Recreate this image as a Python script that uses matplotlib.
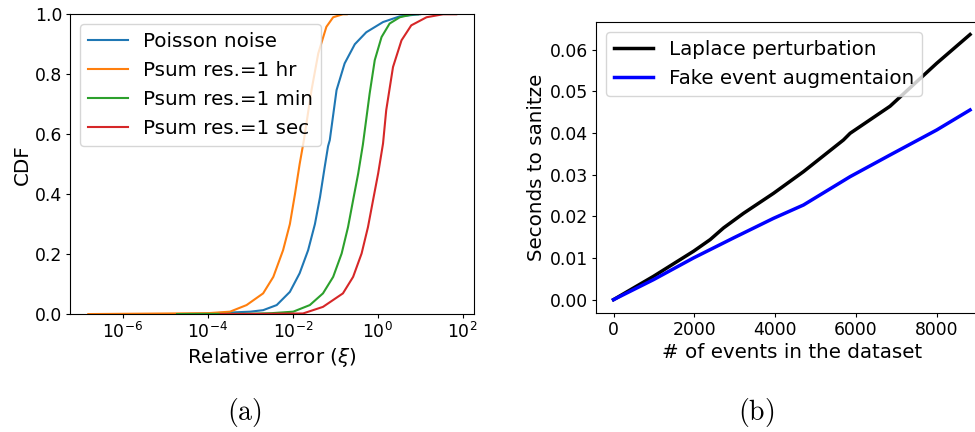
import numpy as np
import matplotlib
matplotlib.use('Agg')
import matplotlib.pyplot as plt
from matplotlib.ticker import NullLocator

plt.rcParams['font.size'] = 14.3
plt.rcParams['xtick.labelsize'] = 12.4
plt.rcParams['ytick.labelsize'] = 12.4
plt.rcParams['xtick.major.size'] = 3
plt.rcParams['ytick.major.size'] = 3
plt.rcParams['xtick.major.pad'] = 2.5
plt.rcParams['ytick.major.pad'] = 2.5

# (a) CDF of relative error, x given as log10(xi)
poisson_logx = [-4.7, -4.0, -3.0, -2.70, -2.38, -2.07, -1.84, -1.64, -1.48, -1.36, -1.25, -1.17,
                -1.13, -0.97, -0.78, -0.54, -0.27, 0.125, 0.52, 0.91, 1.0]
poisson_cdf = [0.0, 0.002, 0.008, 0.013, 0.03, 0.074, 0.136, 0.213, 0.30, 0.39, 0.49, 0.56,
               0.58, 0.747, 0.836, 0.90, 0.94, 0.974, 0.993, 0.999, 1.0]

hr_logx = [-6.82, -4.0, -3.48, -3.09, -2.70, -2.46, -2.23, -2.07, -1.95, -1.84, -1.74,
           -1.56, -1.40, -1.21, -1.05, -0.82, -0.73]
hr_cdf = [0.0, 0.003, 0.008, 0.03, 0.069, 0.124, 0.213, 0.30, 0.40, 0.50, 0.58,
          0.747, 0.87, 0.958, 0.99, 1.0, 1.0]

min_logx = [-4.73, -3.0, -2.5, -1.99, -1.60, -1.29, -1.05, -0.85, -0.70, -0.58, -0.46, -0.35,
            -0.19, -0.07, 0.09, 0.28, 0.52, 0.83, 0.95]
min_cdf = [0.0, 0.001, 0.003, 0.008, 0.03, 0.069, 0.124, 0.202, 0.29, 0.38, 0.469, 0.565,
           0.736, 0.847, 0.924, 0.969, 0.99, 1.0, 1.0]

sec_logx = [-3.7, -2.5, -1.76, -1.29, -0.82, -0.58, -0.38, -0.23, -0.11, 0.01, 0.125,
            0.20, 0.36, 0.56, 0.79, 1.15, 1.54, 1.85]
sec_cdf = [0.0, 0.001, 0.002, 0.024, 0.069, 0.124, 0.202, 0.29, 0.38, 0.469, 0.569,
           0.68, 0.824, 0.913, 0.963, 0.99, 1.0, 1.0]

# (b) sanitization time
events = [0, 990, 1979, 2392, 2722, 3216, 3959, 4701, 5691, 5856, 6845, 8000, 8825]
laplace_sec = [0.0, 0.0056, 0.0116, 0.0144, 0.0172, 0.0207, 0.0255, 0.0307, 0.0383, 0.0399,
               0.0464, 0.0567, 0.0636]
events_fake = [0, 990, 1979, 2969, 3959, 4701, 5856, 6845, 8000, 8825]
fake_sec = [0.0, 0.0048, 0.0100, 0.0148, 0.0195, 0.0227, 0.0295, 0.0347, 0.0407, 0.0455]

fig = plt.figure(figsize=(9.75, 4.32), dpi=100)

ax1 = fig.add_axes([0.0718, 0.273, 0.414, 0.694])
ax1.plot(10 ** np.array(poisson_logx), poisson_cdf, color='#1f77b4', lw=1.5, label='Poisson noise')
ax1.plot(10 ** np.array(hr_logx), hr_cdf, color='#ff7f0e', lw=1.5, label='Psum res.=1 hr')
ax1.plot(10 ** np.array(min_logx), min_cdf, color='#2ca02c', lw=1.5, label='Psum res.=1 min')
ax1.plot(10 ** np.array(sec_logx), sec_cdf, color='#d62728', lw=1.5, label='Psum res.=1 sec')
ax1.set_xscale('log')
ax1.set_xlim(10 ** -7.25, 10 ** 2.26)
ax1.set_ylim(0, 1)
ax1.set_xticks([1e-6, 1e-4, 1e-2, 1, 1e2])
ax1.xaxis.set_minor_locator(NullLocator())
ax1.set_yticks([0, 0.2, 0.4, 0.6, 0.8, 1.0])
ax1.set_xlabel(r'Relative error ($\xi$)', labelpad=3)
ax1.set_ylabel('CDF', labelpad=2.5)
ax1.legend(loc='upper left')

ax2 = fig.add_axes([0.611, 0.2755, 0.402, 0.6736])
ax2.plot(events, laplace_sec, color='black', lw=2.5, label='Laplace perturbation')
ax2.plot(events_fake, fake_sec, color='blue', lw=2.5, label='Fake event augmentaion')
ax2.set_xlim(-441, 9261)
ax2.set_ylim(-0.0032, 0.0666)
ax2.set_xticks([0, 2000, 4000, 6000, 8000])
ax2.set_yticks([0.0, 0.01, 0.02, 0.03, 0.04, 0.05, 0.06])
ax2.set_yticklabels(['0.00', '0.01', '0.02', '0.03', '0.04', '0.05', '0.06'])
ax2.set_xlabel('# of events in the dataset', labelpad=3)
ax2.set_ylabel('Seconds to sanitze', labelpad=3)
ax2.legend(loc='upper left')

fig.text(0.251, 0.044, r'$\mathrm{(a)}$', ha='center', va='center', fontsize=20, math_fontfamily='cm')
fig.text(0.776, 0.044, r'$\mathrm{(b)}$', ha='center', va='center', fontsize=20, math_fontfamily='cm')

fig.savefig('out.png', dpi=100)
